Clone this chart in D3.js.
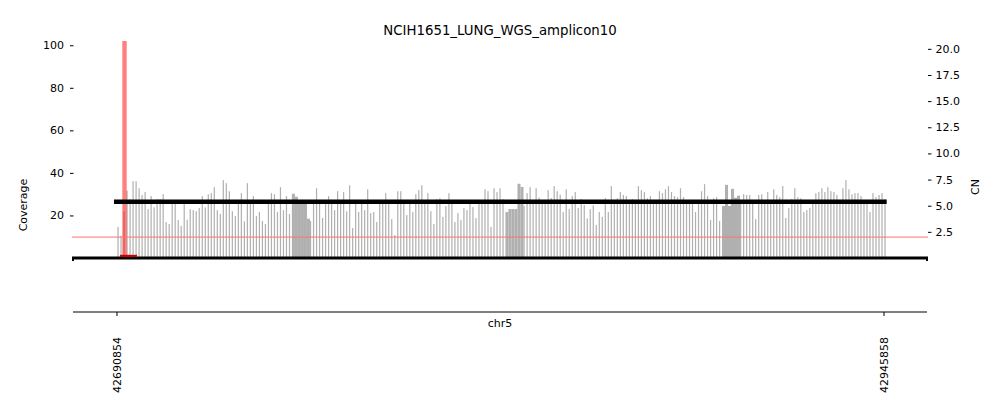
<!DOCTYPE html>
<html><head><meta charset="utf-8">
<script src="https://cdn.jsdelivr.net/npm/d3@7"></script>
<style>body{margin:0;background:#fff}text{font-family:"DejaVu Sans",sans-serif;fill:#000}</style>
</head><body><svg id="c" width="1000" height="416"></svg>
<script>
const title = "NCIH1651_LUNG_WGS_amplicon10";
const chrom = "chr5";
const xTickPositions = [42690854, 42945858];
const viewRange = [42675893, 42960487];
const binStart = 42691000;
const binSize = 1000;
const coverage = [
14.6,10.5,22,31.7,27.7,36.1,36.1,32.8,29.6,31.0,
23.0,29.1,23.8,27.7,27.7,30.0,16.9,16.0,26.0,26.0,
17.9,15.1,26.0,18.0,23.0,22.5,22.0,23.5,29.1,23.8,
30.0,30.5,33.3,22.5,20.7,36.6,35.2,31.4,22.0,19.7,
26.0,30.5,17.2,35.2,26.0,29.1,19.7,21.6,17.4,16.0,
26.0,30.5,30.0,21.6,33.3,22.5,29.1,20.7,30.2,28.8,
26.0,26.0,26.0,18.5,17.4,26.0,32.8,26.0,18.8,26.0,
29.1,26.0,22.5,31.4,26.0,31.0,22.0,34.2,14.1,26.0,
21.6,26.0,22.5,32.3,21.1,21.6,16.9,26.0,26.0,30.5,
26.0,18.3,10.8,31.4,31.4,26.0,20.2,26.0,21.6,30.0,
31.9,34.2,26.0,30.5,22.0,16.0,27.7,28.1,19.3,24.4,
30.5,26.0,16.9,21.1,17.8,23.5,22.5,26.0,23.9,18.8,
26.0,26.0,32.3,31.4,14.6,32.8,31.0,32.8,27.7,21.6,
23.0,23.0,23.0,34.9,33.4,24.4,30.5,33.3,26.0,32.8,
28.4,26.0,26.0,31.9,28.2,33.8,31.4,29.8,21.6,32.3,
23.0,29.1,31.0,23.5,27.7,24.9,18.6,23.0,24.8,15.5,
21.6,19.3,28.2,21.6,33.8,26.0,28.1,31.0,29.6,29.1,
27.0,27.7,26.5,33.8,31.9,31.0,28.1,29.1,26.0,26.0,
31.4,30.5,32.3,33.8,31.0,29.1,28.6,32.8,28.6,26.0,
26.0,26.0,21.6,26.0,31.4,34.7,29.1,17.9,28.1,28.6,
17.4,24.5,34.4,24.5,32.5,28.3,29.3,26.0,30.0,29.6,
29.6,26.0,18.3,29.6,30.0,26.0,31.0,26.0,32.3,29.6,
28.6,33.8,18.8,23.5,27.7,32.8,28.6,28.1,21.6,22.5,
23.5,26.0,30.5,31.0,32.8,31.0,33.3,31.4,31.0,29.6,
26.0,32.8,36.6,32.3,30.0,30.5,30.5,29.1,26.0,26.0,
21.6,30.5,28.6,29.6,30.5,27.7];
const mergedBins = [58,59,60,61,62,63,129,130,131,132,133,134,201,202,203,204,205,206];
const cnSegStarts = [42689850];
const cnSegEnds = [42946750];
const cnSegValues = [5.38];
const foldbackStarts = [42692620];
const foldbackEnds = [42694080];
const breakStarts = [42691850];
const breakEnds = [42697500];
const cnReference = 2.0;
const covTicks = [20, 40, 60, 80, 100];
const cnTicks = [2.5, 5.0, 7.5, 10.0, 12.5, 15.0, 17.5, 20.0];

const svg = d3.select("#c");
const pTop = 41, pBottom = 258, pLeft = 72, pRight = 928;
const x = d3.scaleLinear().domain(viewRange).range([pLeft, pRight]);
const yCov = d3.scaleLinear().domain([0, 102]).range([pBottom, pTop]);
const yCN = d3.scaleLinear().domain([0, 20.75]).range([pBottom, pTop]);
const merged = new Set(mergedBins);

svg.append("defs").append("clipPath").attr("id","clip")
  .append("rect").attr("x",pLeft).attr("y",pTop).attr("width",pRight-pLeft).attr("height",pBottom-pTop);

const g = svg.append("g").attr("clip-path","url(#clip)");
g.selectAll("rect.bar").data(coverage).join("rect").attr("class","bar")
  .attr("x",(d,i)=>x(binStart+i*binSize))
  .attr("width",(d,i)=> merged.has(i) ? x(binStart+(i+1)*binSize)-x(binStart+i*binSize) : x(binStart+0.4*binSize)-x(binStart))
  .attr("y",d=>yCov(d)).attr("height",d=>yCov(0)-yCov(d))
  .attr("fill","#b0b0b0");
g.selectAll("rect.fb").data(foldbackStarts).join("rect").attr("class","fb")
  .attr("x",(d)=>x(d)).attr("width",(d,i)=>x(foldbackEnds[i])-x(d))
  .attr("y",pTop).attr("height",pBottom-pTop)
  .attr("fill","rgb(255,0,0)").attr("fill-opacity",0.5);
g.append("line").attr("x1",pLeft).attr("x2",pRight).attr("y1",yCN(cnReference)).attr("y2",yCN(cnReference))
  .attr("stroke","#ff7070").attr("stroke-width",1);
g.selectAll("line.seg").data(cnSegValues).join("line").attr("class","seg")
  .attr("x1",(d,i)=>x(cnSegStarts[i])).attr("x2",(d,i)=>x(cnSegEnds[i]))
  .attr("y1",d=>yCN(d)).attr("y2",d=>yCN(d))
  .attr("stroke","#000").attr("stroke-width",4.5);

svg.append("line").attr("x1",pLeft).attr("x2",pRight).attr("y1",258).attr("y2",258).attr("stroke","#000").attr("stroke-width",3);
svg.append("line").attr("x1",pLeft+1).attr("x2",pLeft+1).attr("y1",258).attr("y2",261).attr("stroke","#000").attr("stroke-width",2);
svg.append("line").attr("x1",pRight-1).attr("x2",pRight-1).attr("y1",258).attr("y2",261).attr("stroke","#000").attr("stroke-width",2);
svg.selectAll("rect.brk").data(breakStarts).join("rect").attr("class","brk")
  .attr("x",d=>x(d)).attr("width",(d,i)=>x(breakEnds[i])-x(d))
  .attr("y",254.8).attr("height",2.2).attr("fill","#d00000");

const la = svg.append("g").attr("transform",`translate(${pLeft+1.5},0)`)
  .call(d3.axisLeft(yCov).tickValues(covTicks).tickSize(3.5).tickPadding(6).tickFormat(d3.format("d")));
la.select(".domain").remove();
la.selectAll("text").attr("font-size","11px").attr("font-family","DejaVu Sans");
const ra = svg.append("g").attr("transform",`translate(${pRight},0)`)
  .call(d3.axisRight(yCN).tickValues(cnTicks).tickSize(3.5).tickPadding(4).tickFormat(d3.format(".1f")));
ra.select(".domain").remove();
ra.selectAll("text").attr("font-size","11px").attr("font-family","DejaVu Sans");

const ba = svg.append("g");
ba.append("line").attr("x1",73).attr("x2",927).attr("y1",312).attr("y2",312).attr("stroke","#000").attr("stroke-width",1);
ba.selectAll("line.t").data(xTickPositions).join("line").attr("class","t")
  .attr("x1",d=>x(d)).attr("x2",d=>x(d)).attr("y1",312).attr("y2",316).attr("stroke","#000");
ba.selectAll("text.t").data(xTickPositions).join("text").attr("class","t")
  .attr("transform",d=>`translate(${x(d)},337) rotate(-90)`)
  .attr("text-anchor","end").attr("dy","0.36em").attr("font-size","11px").text(d=>d);
svg.append("text").attr("x",500).attr("y",327).attr("text-anchor","middle").attr("font-size","11px").text(chrom);

svg.append("text").attr("x",500).attr("y",35).attr("text-anchor","middle").attr("font-size","13.3px").text(title);
svg.append("text").attr("transform","translate(23,205) rotate(-90)").attr("text-anchor","middle").attr("dy","0.36em").attr("font-size","11px").text("Coverage");
svg.append("text").attr("transform","translate(975,187) rotate(-90)").attr("text-anchor","middle").attr("dy","0.36em").attr("font-size","11px").text("CN");
</script></body></html>
